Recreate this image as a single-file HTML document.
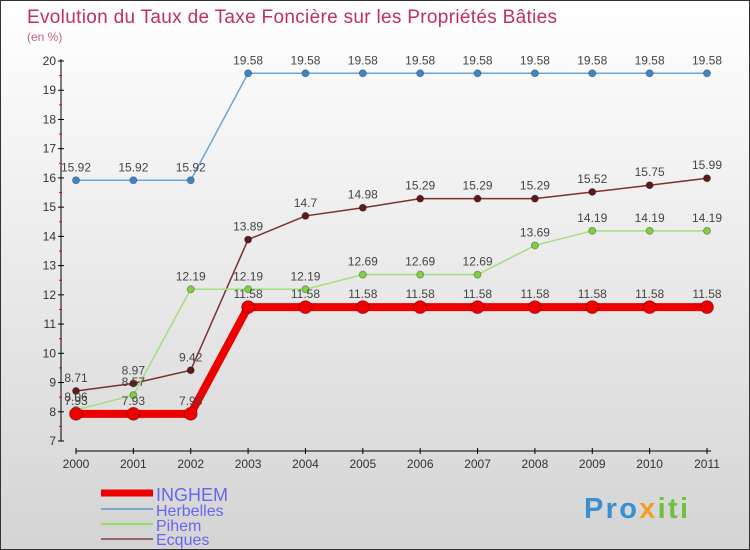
<!DOCTYPE html>
<html><head><meta charset="utf-8"><style>
body{margin:0}
#c{width:750px;height:550px;position:relative;box-sizing:border-box;border:1px solid #333;background:linear-gradient(#ffffff,#d4d4d4);font-family:"Liberation Sans",sans-serif;overflow:hidden}
text{font-family:"Liberation Sans",sans-serif}
</style></head><body>
<div id="c">
<svg id="s" width="750" height="550">
<text x="26" y="22" font-size="19" fill="#c0305a" textLength="530">Evolution du Taux de Taxe Foncière sur les Propriétés Bâties</text>
<text x="26" y="40" font-size="12" fill="#c0608a">(en %)</text>
<g id="axes"></g><g id="series"></g>
<g>
<line x1="100" y1="492" x2="152" y2="492" stroke="#ee0000" stroke-width="7"/>
<text x="155" y="500" font-size="18" fill="#6666ee">INGHEM</text>
<line x1="100" y1="508" x2="152" y2="508" stroke="#7aa8c8" stroke-width="2"/>
<text x="155" y="515" font-size="16" fill="#6666ee">Herbelles</text>
<line x1="100" y1="523" x2="152" y2="523" stroke="#90e060" stroke-width="2"/>
<text x="155" y="530" font-size="16" fill="#6666ee">Pihem</text>
<line x1="100" y1="538" x2="152" y2="538" stroke="#996666" stroke-width="2"/>
<text x="155" y="544" font-size="16" fill="#6666ee">Ecques</text>
</g>
<text x="583" y="517" font-size="29" font-weight="bold" fill="#3a8fd0" textLength="104">Pro<tspan fill="#f0a020">x</tspan><tspan fill="#70c040">iti</tspan></text>
</svg></div>
<script>
const years=[2000,2001,2002,2003,2004,2005,2006,2007,2008,2009,2010,2011];
const yTicks=[7,8,9,10,11,12,13,14,15,16,17,18,19,20];
const inghem=[7.93,7.93,7.93,11.58,11.58,11.58,11.58,11.58,11.58,11.58,11.58,11.58];
const herbelles=[15.92,15.92,15.92,19.58,19.58,19.58,19.58,19.58,19.58,19.58,19.58,19.58];
const pihem=[8.06,8.57,12.19,12.19,12.19,12.69,12.69,12.69,13.69,14.19,14.19,14.19];
const ecques=[8.71,8.97,9.42,13.89,14.7,14.98,15.29,15.29,15.29,15.52,15.75,15.99];
const NS="http://www.w3.org/2000/svg";
const X=i=>75+i*(706-75)/(years.length-1);
const Y=v=>440-(v-7)*(380/13);
function mk(tag,attrs,parent,txt){const e=document.createElementNS(NS,tag);for(const k in attrs)e.setAttribute(k,attrs[k]);if(txt!==undefined)e.textContent=txt;parent.appendChild(e);return e;}
const ax=document.getElementById('axes');
let a=mk('line',{x1:60,y1:58,x2:60,y2:440,stroke:'#000','stroke-width':1},ax);


a=mk('line',{x1:75,y1:450,x2:710,y2:450,stroke:'#000','stroke-width':1},ax);


yTicks.forEach(v=>{
 mk('line',{x1:57,y1:Y(v),x2:63,y2:Y(v),stroke:'#000'},ax);
 if(v<20)mk('line',{x1:58,y1:Y(v+0.5),x2:61,y2:Y(v+0.5),stroke:'#e00'},ax);
 const t=mk('text',{x:55,y:Y(v)+4,'font-size':12,fill:'#333','text-anchor':'end'},ax,v);
 
 
});
years.forEach((y,i)=>{
 mk('line',{x1:X(i),y1:447,x2:X(i),y2:453,stroke:'#000'},ax);
 const t=mk('text',{x:X(i),y:467,'font-size':12,fill:'#333','text-anchor':'middle'},ax,y);
 
 
});
const sg=document.getElementById('series');
function series(name,data,color,w,r,dot){
 const g=mk('g',{},sg);
 
 
 const l=mk('polyline',{points:data.map((v,i)=>X(i)+','+Y(v)).join(' '),fill:'none',stroke:color,'stroke-width':w},g);
 
 
 data.forEach((v,i)=>{
  const c=mk('circle',{cx:X(i),cy:Y(v),r:r,fill:dot,stroke:'rgba(0,0,0,0.3)'},g);
  
  
  const t=mk('text',{x:X(i),y:Y(v)-9,'font-size':12,fill:'#444','text-anchor':'middle'},g,v);
  
  
 });
}
series('herbelles',herbelles,'#6aa6d6',1.5,3.5,'#3a88c8');
series('ecques',ecques,'#7a3030',1.5,3.5,'#601818');
series('pihem',pihem,'#a0e080',1.5,3.5,'#80d040');
series('inghem',inghem,'#ee0000',8,6.5,'#ee0000');
</script>
</body></html>
